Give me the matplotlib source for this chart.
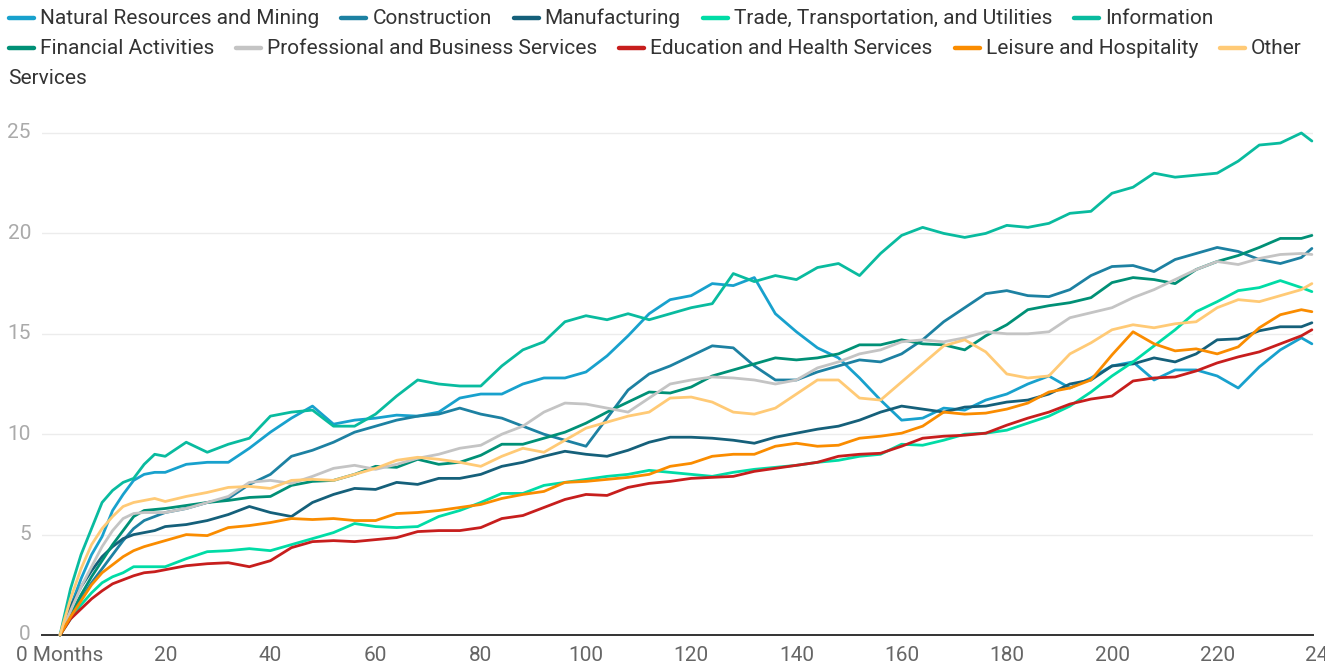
import matplotlib
matplotlib.use("Agg")
import matplotlib.pyplot as plt
from matplotlib.lines import Line2D

# ---------------- data ----------------
months = [0, 2, 4, 6, 8, 10, 12, 14, 16, 18, 20,
          24, 28, 32, 36, 40, 44, 48, 52, 56, 60,
          64, 68, 72, 76, 80, 84, 88, 92, 96, 100,
          104, 108, 112, 116, 120, 124, 128, 132, 136, 140,
          144, 148, 152, 156, 160, 164, 168, 172, 176, 180,
          184, 188, 192, 196, 200, 204, 208, 212, 216, 220,
          224, 228, 232, 236, 238]

series_names = ["Natural Resources and Mining", "Construction", "Manufacturing",
                "Trade, Transportation, and Utilities", "Information",
                "Financial Activities", "Professional and Business Services",
                "Education and Health Services", "Leisure and Hospitality",
                "Other Services"]

series_colors = ["#18a1cd", "#1d81a2", "#15607a", "#00dca6", "#09bb9f",
                 "#009076", "#c4c4c4", "#c71e1d", "#fa8c00", "#ffca76"]

natural_resources = [0, 1.4, 2.8, 4.0, 4.9, 6.2, 7.0, 7.7, 8.0, 8.1, 8.1,
                     8.5, 8.6, 8.6, 9.3, 10.1, 10.8, 11.4, 10.5, 10.7, 10.8,
                     10.95, 10.9, 11.1, 11.8, 12.0, 12.0, 12.5, 12.8, 12.8, 13.1,
                     13.9, 14.9, 16.0, 16.7, 16.9, 17.5, 17.4, 17.8, 16.0, 15.1,
                     14.3, 13.8, 12.8, 11.7, 10.7, 10.8, 11.3, 11.2, 11.7, 12.0,
                     12.5, 12.9, 12.3, 12.8, 13.4, 13.6, 12.7, 13.2, 13.2, 12.9,
                     12.3, 13.35, 14.2, 14.8, 14.5]

construction = [0, 0.9, 1.8, 2.6, 3.3, 4.0, 4.7, 5.3, 5.7, 5.9, 6.1,
                6.3, 6.6, 6.8, 7.5, 8.0, 8.9, 9.2, 9.6, 10.1, 10.4,
                10.7, 10.9, 11.0, 11.3, 11.0, 10.8, 10.4, 10.0, 9.7, 9.4,
                10.8, 12.2, 13.0, 13.4, 13.9, 14.4, 14.3, 13.4, 12.7, 12.7,
                13.1, 13.4, 13.7, 13.6, 14.0, 14.7, 15.6, 16.3, 17.0, 17.15,
                16.9, 16.85, 17.2, 17.9, 18.35, 18.4, 18.1, 18.7, 19.0, 19.3,
                19.1, 18.7, 18.5, 18.8, 19.25]

manufacturing = [0, 1.4, 2.4, 3.2, 3.9, 4.4, 4.8, 5.0, 5.1, 5.2, 5.4,
                 5.5, 5.7, 6.0, 6.4, 6.1, 5.9, 6.6, 7.0, 7.3, 7.25,
                 7.6, 7.5, 7.8, 7.8, 8.0, 8.4, 8.6, 8.9, 9.15, 9.0,
                 8.9, 9.2, 9.6, 9.85, 9.85, 9.8, 9.7, 9.55, 9.85, 10.05,
                 10.25, 10.4, 10.7, 11.1, 11.4, 11.25, 11.1, 11.35, 11.4, 11.6,
                 11.7, 12.0, 12.5, 12.7, 13.4, 13.5, 13.8, 13.6, 14.0, 14.7,
                 14.75, 15.15, 15.35, 15.35, 15.55]

trade_transport = [0, 0.8, 1.5, 2.1, 2.6, 2.9, 3.1, 3.4, 3.4, 3.4, 3.4,
                   3.8, 4.15, 4.2, 4.3, 4.2, 4.5, 4.8, 5.1, 5.55, 5.4,
                   5.35, 5.4, 5.9, 6.2, 6.6, 7.05, 7.05, 7.45, 7.6, 7.75,
                   7.9, 8.0, 8.2, 8.1, 8.0, 7.9, 8.1, 8.25, 8.35, 8.45,
                   8.6, 8.7, 8.9, 9.0, 9.5, 9.45, 9.7, 10.0, 10.05, 10.2,
                   10.55, 10.9, 11.4, 12.1, 12.9, 13.6, 14.4, 15.2, 16.1, 16.6,
                   17.15, 17.3, 17.65, 17.3, 17.1]

information = [0, 2.3, 4.0, 5.3, 6.6, 7.2, 7.6, 7.8, 8.5, 9.0, 8.9,
               9.6, 9.1, 9.5, 9.8, 10.9, 11.1, 11.2, 10.4, 10.4, 11.0,
               11.9, 12.7, 12.5, 12.4, 12.4, 13.4, 14.2, 14.6, 15.6, 15.9,
               15.7, 16.0, 15.7, 16.0, 16.3, 16.5, 18.0, 17.6, 17.9, 17.7,
               18.3, 18.5, 17.9, 19.0, 19.9, 20.3, 20.0, 19.8, 20.0, 20.4,
               20.3, 20.5, 21.0, 21.1, 22.0, 22.3, 23.0, 22.8, 22.9, 23.0,
               23.6, 24.4, 24.5, 25.0, 24.6]

financial = [0, 1.0, 2.0, 2.9, 3.7, 4.5, 5.2, 5.9, 6.2, 6.25, 6.3,
             6.45, 6.6, 6.7, 6.85, 6.9, 7.45, 7.65, 7.7, 8.0, 8.4,
             8.35, 8.75, 8.5, 8.6, 8.95, 9.5, 9.5, 9.8, 10.1, 10.55,
             11.1, 11.6, 12.1, 12.05, 12.35, 12.9, 13.2, 13.5, 13.8, 13.7,
             13.8, 14.0, 14.45, 14.45, 14.7, 14.5, 14.45, 14.2, 14.9, 15.45,
             16.2, 16.4, 16.55, 16.8, 17.55, 17.8, 17.7, 17.5, 18.2, 18.6,
             18.9, 19.3, 19.75, 19.75, 19.9]

professional = [0, 1.2, 2.4, 3.4, 4.4, 5.2, 5.8, 6.05, 6.1, 6.1, 6.1,
                6.3, 6.6, 6.9, 7.6, 7.7, 7.55, 7.9, 8.3, 8.45, 8.25,
                8.5, 8.8, 9.0, 9.3, 9.45, 10.0, 10.4, 11.1, 11.55, 11.5,
                11.3, 11.1, 11.8, 12.5, 12.7, 12.85, 12.8, 12.7, 12.5, 12.7,
                13.3, 13.6, 14.0, 14.2, 14.6, 14.7, 14.6, 14.8, 15.1, 15.0,
                15.0, 15.1, 15.8, 16.05, 16.3, 16.8, 17.2, 17.7, 18.2, 18.6,
                18.45, 18.75, 18.95, 19.0, 18.95]

education_health = [0, 0.8, 1.3, 1.8, 2.2, 2.55, 2.75, 2.95, 3.1, 3.15, 3.25,
                    3.45, 3.55, 3.6, 3.4, 3.7, 4.35, 4.65, 4.7, 4.65, 4.75,
                    4.85, 5.15, 5.2, 5.2, 5.35, 5.8, 5.95, 6.35, 6.75, 7.0,
                    6.95, 7.35, 7.55, 7.65, 7.8, 7.85, 7.9, 8.15, 8.3, 8.45,
                    8.6, 8.9, 9.0, 9.05, 9.4, 9.8, 9.9, 9.95, 10.05, 10.45,
                    10.8, 11.1, 11.5, 11.75, 11.9, 12.65, 12.8, 12.85, 13.15, 13.55,
                    13.85, 14.1, 14.5, 14.9, 15.2]

leisure = [0, 0.9, 1.7, 2.5, 3.1, 3.5, 3.9, 4.2, 4.4, 4.55, 4.7,
           5.0, 4.95, 5.35, 5.45, 5.6, 5.8, 5.75, 5.8, 5.7, 5.7,
           6.05, 6.1, 6.2, 6.35, 6.5, 6.8, 7.0, 7.15, 7.6, 7.65,
           7.75, 7.85, 8.0, 8.4, 8.55, 8.9, 9.0, 9.0, 9.4, 9.55,
           9.4, 9.45, 9.8, 9.9, 10.05, 10.4, 11.1, 11.0, 11.05, 11.25,
           11.55, 12.1, 12.3, 12.7, 13.95, 15.1, 14.5, 14.15, 14.25, 14.0,
           14.35, 15.3, 15.95, 16.2, 16.1]

other_services = [0, 1.8, 3.3, 4.5, 5.3, 5.9, 6.4, 6.6, 6.7, 6.8, 6.65,
                  6.9, 7.1, 7.35, 7.4, 7.3, 7.7, 7.75, 7.7, 8.0, 8.3,
                  8.7, 8.85, 8.75, 8.6, 8.4, 8.9, 9.3, 9.1, 9.7, 10.3,
                  10.6, 10.9, 11.1, 11.8, 11.85, 11.6, 11.1, 11.0, 11.3, 12.0,
                  12.7, 12.7, 11.8, 11.7, 12.6, 13.5, 14.4, 14.7, 14.1, 13.0,
                  12.8, 12.9, 14.0, 14.55, 15.2, 15.45, 15.3, 15.5, 15.6, 16.3,
                  16.7, 16.6, 16.9, 17.2, 17.5]

series_values = [natural_resources, construction, manufacturing, trade_transport,
                 information, financial, professional, education_health,
                 leisure, other_services]

y_ticks = [0, 5, 10, 15, 20, 25]
x_ticks = [0, 20, 40, 60, 80, 100, 120, 140, 160, 180, 200, 220, 240]
x_tick_labels = ["0 Months"] + [str(t) for t in x_ticks[1:]]

# ---------------- figure ----------------
plt.rcParams["font.family"] = ["Roboto", "DejaVu Sans"]
W, H = 1325, 670
fig = plt.figure(figsize=(W / 100, H / 100), dpi=100)
fig.patch.set_facecolor("white")

ax_left, ax_right, ax_bottom, ax_top = 42, 1313, 635, 103
ax = fig.add_axes([ax_left / W, (H - ax_bottom) / H,
                   (ax_right - ax_left) / W, (ax_bottom - ax_top) / H])

for vals, col in zip(series_values, series_colors):
    ax.plot(months, vals, color=col, lw=2.0, solid_joinstyle="round",
            solid_capstyle="round", zorder=3, clip_on=False)

px_per_month = 5.26
ax.set_xlim(-(60 - ax_left) / px_per_month, (ax_right - 60) / px_per_month)
ax.set_ylim(0, (ax_bottom - ax_top) / 20.08)

ax.set_yticks(y_ticks)
ax.set_yticklabels([str(t) for t in y_ticks])
vis_x = [t for t in x_ticks if t <= ax.get_xlim()[1]]
ax.set_xticks(vis_x)
ax.set_xticklabels(x_tick_labels[:len(vis_x)])
# tick beyond the right edge (clipped by the figure border, as in the reference)
for t, lab in zip(x_ticks, x_tick_labels):
    if t > ax.get_xlim()[1]:
        ax.annotate(lab, xy=(t, 0), xycoords=("data", "axes fraction"),
                    xytext=(0, -8), textcoords="offset points",
                    ha="center", va="top", fontsize=15, color="#666666",
                    annotation_clip=False)

ax.tick_params(axis="x", length=0, pad=8, labelsize=15, labelcolor="#666666")
ax.tick_params(axis="y", length=0, pad=8, labelsize=15, labelcolor="#aaaaaa")
for lab in ax.get_yticklabels():
    lab.set_verticalalignment("center")

ax.grid(axis="y", color="#ececec", lw=1.0, zorder=0)
ax.grid(axis="x", visible=False)
ax.set_axisbelow(True)
for s in ["top", "right", "left"]:
    ax.spines[s].set_visible(False)
ax.spines["bottom"].set_color("#333333")
ax.spines["bottom"].set_linewidth(1.4)
ax.spines["bottom"].set_zorder(2)

# ---------------- legend (flowing, Datawrapper style) ----------------
renderer = fig.canvas.get_renderer()
fs = 15
handle_w, handle_gap, item_gap = 25, 6, 22
x0, max_right = 9, 1318
row_y = [18, 48, 78]


def text_width(s):
    t = fig.text(0, 0, s, fontsize=fs)
    w = t.get_window_extent(renderer).width
    t.remove()
    return w


def put_text(x, y, s):
    fig.text(x / W, 1 - y / H, s, fontsize=fs, color="#333333",
             ha="left", va="center")


row, x = 0, x0
for name, col in zip(series_names, series_colors):
    w = text_width(name)
    if x + handle_w + handle_gap + w > max_right:
        first = name.split(" ")[0]
        wf = text_width(first)
        if x + handle_w + handle_gap + wf <= max_right and x > x0:
            # handle + first word here, remaining words wrap to next row
            y = row_y[row]
            fig.add_artist(Line2D([x / W, (x + handle_w) / W], [1 - y / H, 1 - y / H],
                                  color=col, lw=3.2, solid_capstyle="round"))
            put_text(x + handle_w + handle_gap, y, first)
            rest = name[len(first) + 1:]
            row += 1
            put_text(x0 - 1, row_y[row], rest)
            x = x0 + text_width(rest) + item_gap
            continue
        row += 1
        x = x0
    y = row_y[row]
    fig.add_artist(Line2D([x / W, (x + handle_w) / W], [1 - y / H, 1 - y / H],
                          color=col, lw=3.2, solid_capstyle="round"))
    put_text(x + handle_w + handle_gap, y, name)
    x += handle_w + handle_gap + w + item_gap

fig.savefig("out.png", dpi=100, facecolor="white")
